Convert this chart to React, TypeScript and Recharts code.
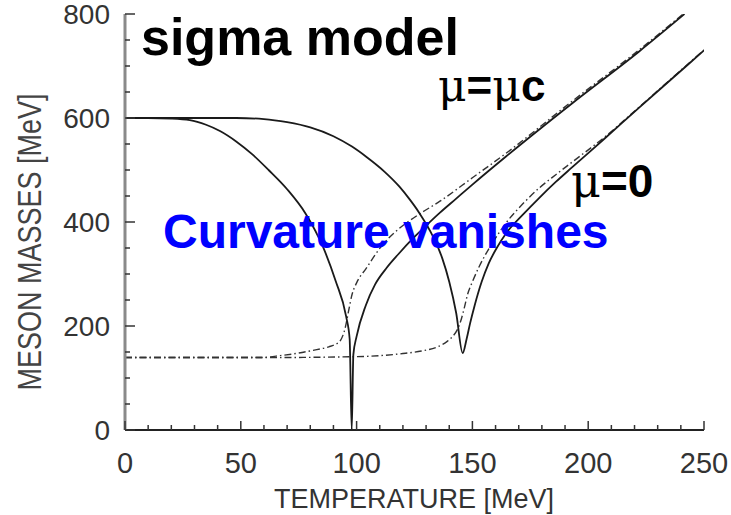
import React from 'react';
import { LineChart, Line, XAxis, YAxis } from 'recharts';

// ---- data (temperature T in MeV, mass m in MeV) ----
const sigmaMuC_T = [0, 10, 20, 28, 35, 41, 48, 55, 62, 70, 78, 85.5, 91, 95.5, 97, 97.9, 98.6, 100, 104, 108, 113, 118, 124, 130, 136, 143, 150, 164.5, 193, 222, 241.6];
const sigmaMuC_M = [600, 600, 599, 596, 587, 575, 555, 530, 500, 463, 416, 352, 286, 218, 175, 0, 145, 180, 240, 280, 312, 338, 367, 393, 418, 445, 472, 526, 628, 728, 800];

const pionMuC_T = [0, 30, 60, 67, 75, 81, 88, 91, 93, 95, 96.5, 98, 100, 104, 111, 118, 126, 136, 150, 164.5, 193, 222, 241];
const pionMuC_M = [140, 140, 140, 143, 148, 153, 160, 165, 172, 195, 228, 260, 283, 310, 355, 386, 412, 440, 485, 532, 632, 731, 800];

const sigmaMu0_T = [0, 30, 48, 60, 70, 80, 90, 98, 104, 112, 118.5, 123, 127, 133, 137, 140, 143, 145.8, 147.5, 149, 151, 154, 157, 160.5, 164.5, 172, 179, 186, 193, 207, 222, 236, 250];
const sigmaMu0_M = [600, 600, 600, 598, 592, 582, 565, 545, 526, 497, 468, 443, 418, 372, 330, 285, 225, 148, 175, 205, 240, 285, 320, 350, 378, 415, 447, 477, 505, 560, 620, 675, 730];

const pionMu0_T = [0, 50, 100, 110, 120, 128, 135, 139, 141.5, 143.5, 145, 146.5, 148, 150, 153, 158, 164.5, 172, 179, 186, 193, 207, 222, 236, 250];
const pionMu0_M = [139, 139, 141, 143, 147, 152, 160, 170, 180, 193, 210, 235, 262, 285, 315, 355, 398, 436, 466, 491, 515, 563, 621, 676, 731];

const xTicks = [0, 10, 20, 30, 40, 50, 60, 70, 80, 90, 100, 110, 120, 130, 140, 150, 160, 170, 180, 190, 200, 210, 220, 230, 240, 250];
const yTicks = [0, 50, 100, 150, 200, 250, 300, 350, 400, 450, 500, 550, 600, 650, 700, 750, 800];
const xMajorStep = 50;
const yMajorStep = 200;

const xTitle = 'TEMPERATURE [MeV]';
const yTitle = 'MESON MASSES [MeV]';
const title = 'sigma model';
const labelMuC = ['\u03bc', '=', '\u03bc', 'c'];
const labelMu0 = ['\u03bc', '=0'];
const curvatureText = 'Curvature vanishes';

const toData = (ts: number[], ms: number[]) => ts.map((t, i) => ({ T: t, m: ms[i] }));

const sigmaMuC = toData(sigmaMuC_T, sigmaMuC_M);
const pionMuC = toData(pionMuC_T, pionMuC_M);
const sigmaMu0 = toData(sigmaMu0_T, sigmaMu0_M);
const pionMu0 = toData(pionMu0_T, pionMu0_M);

const FONT = '"Liberation Sans", Arial, Helvetica, sans-serif';
const SERIF = '"DejaVu Serif", "Liberation Serif", serif';
const TXT = '#333';

const XTick = (props: any) => {
  const { x, y, payload, side } = props;
  const v = payload.value;
  const major = v % xMajorStep === 0;
  const len = major ? 9 : 5;
  const dir = side === 'bottom' ? -1 : 1;
  return (
    <g>
      <line x1={x} x2={x} y1={y} y2={y + dir * len} stroke="#333" strokeWidth={1.5} />
      {side === 'bottom' && major && (
        <text x={x} y={y + 43} textAnchor="middle" fontSize={29} fill={TXT} fontFamily={FONT}>
          {v}
        </text>
      )}
    </g>
  );
};

const YTick = (props: any) => {
  const { x, y, payload, side } = props;
  const v = payload.value;
  const major = v % yMajorStep === 0;
  const len = major ? 10 : 5;
  const dir = side === 'left' ? 1 : -1;
  return (
    <g>
      <line x1={x} x2={x + dir * len} y1={y} y2={y} stroke="#333" strokeWidth={1.5} />
      {side === 'left' && major && (
        <text x={x - 15} y={y} dy="0.36em" textAnchor="end" fontSize={28} fill={TXT} fontFamily={FONT}>
          {v}
        </text>
      )}
    </g>
  );
};

const solid = { stroke: '#1a1a1a', strokeWidth: 1.8 };
const dashdot = { stroke: '#333', strokeWidth: 1.4, strokeDasharray: '7 3 1.5 3' };

export default function App() {
  return (
    <div style={{ position: 'absolute', left: 0, top: 0, width: 731, height: 515, background: '#fff' }}>
      <LineChart width={731} height={515} margin={{ top: 14, right: 27, bottom: 0, left: 0 }}>
        <XAxis
          type="number"
          dataKey="T"
          domain={[0, 250]}
          ticks={xTicks}
          interval={0}
          height={85}
          tickSize={0}
          tickMargin={0}
          tickLine={false}
          axisLine={{ stroke: '#222', strokeWidth: 2 }}
          tick={(p: any) => <XTick {...p} side="bottom" />}
          allowDataOverflow
        />
        <XAxis
          xAxisId="top"
          orientation="top"
          type="number"
          dataKey="T"
          domain={[0, 250]}
          ticks={xTicks}
          interval={0}
          height={0}
          tickSize={0}
          tickMargin={0}
          tickLine={false}
          axisLine={{ stroke: '#444', strokeWidth: 2.5 }}
          tick={(p: any) => <XTick {...p} side="top" />}
          allowDataOverflow
        />
        <YAxis
          type="number"
          domain={[0, 800]}
          ticks={yTicks}
          interval={0}
          width={125}
          tickSize={0}
          tickMargin={0}
          tickLine={false}
          axisLine={{ stroke: '#8a8a8a', strokeWidth: 3 }}
          tick={(p: any) => <YTick {...p} side="left" />}
          allowDataOverflow
        />
        <YAxis
          yAxisId="right"
          orientation="right"
          type="number"
          domain={[0, 800]}
          ticks={yTicks}
          interval={0}
          width={0}
          tickSize={0}
          tickMargin={0}
          tickLine={false}
          axisLine={{ stroke: '#999', strokeWidth: 3 }}
          tick={(p: any) => <YTick {...p} side="right" />}
          allowDataOverflow
        />
        <Line data={pionMu0} dataKey="m" type="monotone" dot={false} isAnimationActive={false} {...dashdot} />
        <Line data={pionMuC} dataKey="m" type="monotone" dot={false} isAnimationActive={false} {...dashdot} />
        <Line data={sigmaMu0} dataKey="m" type="monotone" dot={false} isAnimationActive={false} {...solid} />
        <Line data={sigmaMuC} dataKey="m" type="monotone" dot={false} isAnimationActive={false} {...solid} />
      </LineChart>
      <svg
        width={731}
        height={515}
        style={{ position: 'absolute', left: 0, top: 0, pointerEvents: 'none' }}
      >
        <text x={414} y={508} textAnchor="middle" fontSize={27} fill={TXT} fontFamily={FONT}>
          {xTitle}
        </text>
        <g transform="translate(41,242) rotate(-90) scale(1,1.25)">
          <text x={0} y={0} textAnchor="middle" fontSize={27} fill="#444" fontFamily={FONT}>
            {yTitle}
          </text>
        </g>
        <text x={141} y={55} fontSize={52} fontWeight="bold" fill="#000" fontFamily={FONT}>
          {title}
        </text>
        <text x={438} y={101} fontSize={44} fill="#000" fontFamily={FONT}>
          <tspan fontFamily={SERIF} fontWeight="normal">{labelMuC[0]}</tspan>
          <tspan fontWeight="bold">{labelMuC[1]}</tspan>
          <tspan fontFamily={SERIF} fontWeight="normal">{labelMuC[2]}</tspan>
          <tspan fontWeight="bold">{labelMuC[3]}</tspan>
        </text>
        <text x={571} y={197} fontSize={46} fill="#000" fontFamily={FONT}>
          <tspan fontFamily={SERIF} fontWeight="normal">{labelMu0[0]}</tspan>
          <tspan fontWeight="bold">{labelMu0[1]}</tspan>
        </text>
        <text x={163} y={248} fontSize={48} fontWeight="bold" fill="#0000ff" fontFamily={FONT}>
          {curvatureText}
        </text>
      </svg>
    </div>
  );
}
